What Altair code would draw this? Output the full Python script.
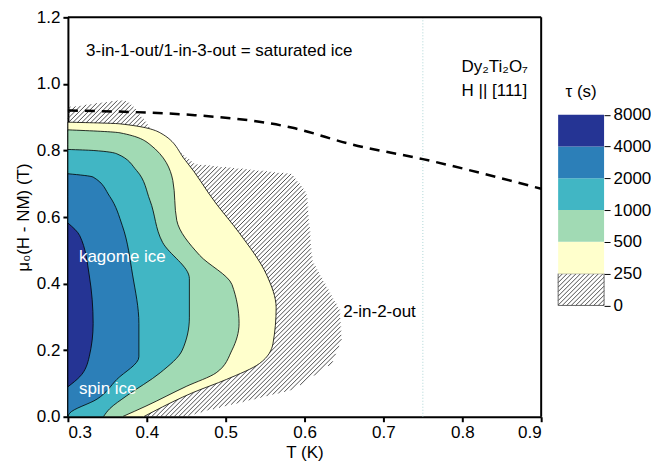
import altair as alt
import numpy as np
import pandas as pd

# contour boundaries: field value y (T) and right-hand edge x (K); left edge is x = 0.3
hatch_y = [0.0, 0.02, 0.08, 0.16, 0.23, 0.32, 0.47, 0.67, 0.73, 0.76, 0.87, 0.93, 0.95]
hatch_x = [0.449, 0.48, 0.585, 0.635, 0.647, 0.645, 0.61, 0.603, 0.585, 0.461, 0.404, 0.385, 0.374]
hatch_left = [0.3] * 12 + [0.36]
yellow_y = [0.0, 0.015, 0.073, 0.112, 0.16, 0.22, 0.327, 0.426, 0.553, 0.64, 0.77, 0.853, 0.88, 0.885]
yellow_x = [0.396, 0.408, 0.459, 0.501, 0.543, 0.56, 0.564, 0.552, 0.517, 0.488, 0.449, 0.417, 0.366, 0.3]
green_y = [0.0, 0.032, 0.091, 0.132, 0.2, 0.28, 0.397, 0.485, 0.59, 0.71, 0.818, 0.853, 0.862]
green_x = [0.369, 0.399, 0.45, 0.488, 0.508, 0.517, 0.508, 0.467, 0.438, 0.433, 0.404, 0.366, 0.3]
teal_y = [0.0, 0.024, 0.062, 0.132, 0.2, 0.297, 0.415, 0.524, 0.65, 0.74, 0.79, 0.8, 0.803]
teal_x = [0.345, 0.353, 0.374, 0.417, 0.445, 0.454, 0.454, 0.42, 0.404, 0.387, 0.362, 0.332, 0.3]
blue_y = [0.0, 0.01, 0.053, 0.112, 0.18, 0.28, 0.426, 0.574, 0.662, 0.72, 0.73]
blue_x = [0.3, 0.302, 0.337, 0.362, 0.39, 0.39, 0.382, 0.369, 0.353, 0.332, 0.3]
navy_y = [0.09, 0.12, 0.18, 0.28, 0.426, 0.544, 0.582]
navy_x = [0.3, 0.315, 0.327, 0.332, 0.327, 0.315, 0.3]

dash_x = [0.3, 0.461, 0.585, 0.66, 0.75, 0.9]
dash_y = [0.92, 0.906, 0.868, 0.818, 0.774, 0.685]

levels = ["0", "250", "500", "1000", "2000", "4000", "8000"]
colors = ["#253494", "#2c7fb8", "#41b6c4", "#a1dab4", "#ffffcc"]

FONT = "Liberation Sans"
FS = 17
W, H = 474, 400
xs = alt.Scale(domain=[0.3, 0.9], nice=False)
ys = alt.Scale(domain=[0, 1.2], nice=False)


def region(yv, xv, color):
    df = pd.DataFrame({"y": yv, "x": xv, "l": [0.3] * len(yv)})
    return alt.Chart(df).mark_area(
        orient="horizontal", color=color, stroke="black", strokeWidth=0.8,
        interpolate="monotone"
    ).encode(
        y=alt.Y("y:Q", scale=ys), x=alt.X("x:Q", scale=xs), x2="l:Q"
    )


def hatch_segments(yv, left, right, x0, x1, y0, y1, sx, sy, step=4.5):
    # 45-degree lines (in pixels) clipped to the region between left(y) and right(y)
    slope = sx / sy
    grid = np.linspace(y0, y1, 600)
    lo = np.interp(grid, yv, left)
    hi = np.interp(grid, yv, right)
    rows = []
    for c in np.arange(x0 - (y1 - y0) / slope, x1, step / sx):
        xx = c + (grid - y0) / slope
        idx = np.flatnonzero((xx >= lo) & (xx <= hi))
        if len(idx) == 0:
            continue
        for r in np.split(idx, np.flatnonzero(np.diff(idx) > 1) + 1):
            rows.append({"x": xx[r[0]], "y": grid[r[0]], "x2": xx[r[-1]], "y2": grid[r[-1]]})
    return pd.DataFrame(rows)


hdf = hatch_segments(hatch_y, hatch_left, hatch_x, 0.3, 0.9, 0, 0.95, W / 0.6, H / 1.2)
hatch = alt.Chart(hdf).mark_rule(color="#222", strokeWidth=0.8).encode(
    x=alt.X("x:Q", scale=xs, axis=alt.Axis(title="T (K)", values=[0.3, 0.4, 0.5, 0.6, 0.7, 0.8, 0.9],
                                           format=".1f")),
    y=alt.Y("y:Q", scale=ys, axis=alt.Axis(title="μ₀(H - NM) (T)", values=[0, 0.2, 0.4, 0.6, 0.8, 1.0, 1.2],
                                           format=".1f")),
    x2="x2:Q", y2="y2:Q"
)

layers = [hatch]
for yv, xv, col in [(yellow_y, yellow_x, colors[4]), (green_y, green_x, colors[3]),
                    (teal_y, teal_x, colors[2]), (blue_y, blue_x, colors[1]),
                    (navy_y, navy_x, colors[0])]:
    layers.append(region(yv, xv, col))

dash = alt.Chart(pd.DataFrame({"x": dash_x, "y": dash_y})).mark_line(
    color="black", strokeWidth=2.5, strokeDash=[10, 7], interpolate="monotone"
).encode(x=alt.X("x:Q", scale=xs), y=alt.Y("y:Q", scale=ys))
vline = alt.Chart(pd.DataFrame({"x": [0.75]})).mark_rule(
    color="#9cc", strokeWidth=0.8, strokeDash=[1, 2]
).encode(x=alt.X("x:Q", scale=xs))
top_edge = alt.Chart(pd.DataFrame({"a": [0]})).mark_rule(color="black", strokeWidth=2).encode(
    x=alt.value(0), x2=alt.value(W), y=alt.value(0))
right_edge = alt.Chart(pd.DataFrame({"a": [0]})).mark_rule(color="black", strokeWidth=2).encode(
    x=alt.value(W), y=alt.value(0), y2=alt.value(H))

labels = pd.DataFrame({
    "x": [0.323, 0.799, 0.799, 0.314, 0.314, 0.649],
    "y": [1.10, 1.05, 0.98, 0.48, 0.084, 0.316],
    "t": ["3-in-1-out/1-in-3-out = saturated ice", "Dy₂Ti₂O₇", "H || [111]",
          "kagome ice", "spin ice", "2-in-2-out"],
    "c": ["black", "black", "black", "white", "white", "black"],
})
text = alt.Chart(labels).mark_text(align="left", font=FONT, fontSize=FS).encode(
    x=alt.X("x:Q", scale=xs), y=alt.Y("y:Q", scale=ys), text="t:N",
    color=alt.Color("c:N", scale=None)
)

main = alt.layer(vline, *layers, dash, text, top_edge, right_edge).properties(width=W, height=H)

# colour bar
CBW = 46
cys = alt.Scale(domain=[-3.5, 9.0625], nice=False)
cxs = alt.Scale(domain=[0, 1], nice=False)
bands = pd.DataFrame({"lo": [1, 2, 3, 4, 5], "hi": [2, 3, 4, 5, 6], "c": colors[::-1]})
label_js = "[" + ",".join(f"'{v}'" for v in levels) + "][datum.value]"
bar = alt.Chart(bands).mark_rect().encode(
    x=alt.value(0), x2=alt.value(CBW),
    y=alt.Y("lo:Q", scale=cys, axis=alt.Axis(
        orient="right", values=[0, 1, 2, 3, 4, 5, 6], title=None, domain=False,
        labelExpr=label_js, tickSize=6, tickWidth=1)),
    y2="hi:Q", color=alt.Color("c:N", scale=None)
)
cb_h = hatch_segments([0, 1], [0, 0], [1, 1], 0, 1, 0, 1, CBW, H / 12.5625)
cb_hatch = alt.Chart(cb_h).mark_rule(color="#222", strokeWidth=0.8).encode(
    x=alt.X("x:Q", scale=cxs, axis=None), y=alt.Y("y:Q", scale=cys), x2="x2:Q", y2="y2:Q"
)
box = alt.Chart(pd.DataFrame({"lo": [0], "hi": [1]})).mark_rect(
    fillOpacity=0, stroke="#444", strokeWidth=0.8
).encode(x=alt.value(0), x2=alt.value(CBW), y=alt.Y("lo:Q", scale=cys), y2="hi:Q")
cb_title = alt.Chart(pd.DataFrame({"t": ["τ (s)"]})).mark_text(
    font=FONT, fontSize=FS
).encode(x=alt.value(CBW / 2), y=alt.Y("v:Q", scale=cys), text="t:N").transform_calculate(v="6.7")
colorbar = alt.layer(cb_hatch, box, bar, cb_title).properties(width=CBW, height=H)

chart = alt.hconcat(main, colorbar, spacing=11).properties(
    padding={"left": 6, "top": 0, "right": 0, "bottom": 0}
).configure_view(strokeWidth=0).configure_axis(
    labelFont=FONT, titleFont=FONT, labelFontSize=FS, titleFontSize=FS, titleFontWeight="normal",
    labelColor="black", titleColor="black", domainColor="black", tickColor="black",
    domainWidth=2, tickWidth=2, tickSize=5, grid=False, labelPadding=3, titlePadding=4
)
chart.save("out.html", embed_options={"renderer": "svg", "actions": False})
